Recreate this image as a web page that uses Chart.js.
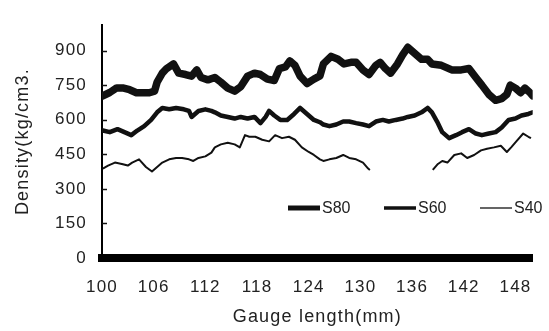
<!DOCTYPE html>
<html>
<head>
<meta charset="utf-8">
<script src="https://cdn.jsdelivr.net/npm/chart.js@4.4.1/dist/chart.umd.min.js"></script>
<style>
  body { margin: 0; background: #fff; }
  #wrap { width: 549px; height: 331px; }
</style>
</head>
<body>
<div id="wrap"><canvas id="chartCanvas" width="549" height="331"></canvas></div>
<script>
const seriesNames = ["S80", "S60", "S40"];

const s80Gauge = [100.1, 100.9, 101.7, 102.4, 103.2, 104.0, 104.7, 105.5, 106.1, 106.4, 107.0, 107.5, 108.3, 108.9, 109.7, 110.4, 111.0, 111.5, 112.3, 113.1, 113.8, 114.6, 115.4, 116.1, 116.9, 117.7, 118.4, 119.2, 120.0, 120.6, 121.3, 121.8, 122.4, 123.0, 123.8, 124.6, 125.3, 125.7, 126.6, 127.4, 128.1, 128.9, 129.5, 130.3, 131.0, 131.8, 132.3, 132.9, 133.5, 134.3, 134.9, 135.5, 136.3, 137.1, 137.8, 138.3, 139.4, 140.6, 141.7, 142.6, 143.4, 144.1, 144.9, 145.7, 146.4, 147.0, 147.4, 148.0, 148.6, 149.1, 149.7, 150.0];
const s80Density = [704, 718, 738, 738, 730, 717, 717, 717, 724, 763, 802, 822, 842, 802, 796, 789, 816, 783, 773, 783, 763, 737, 724, 743, 789, 802, 796, 776, 770, 822, 829, 855, 836, 789, 757, 776, 790, 842, 875, 862, 842, 849, 849, 816, 796, 836, 849, 822, 802, 842, 881, 914, 888, 862, 862, 842, 836, 816, 816, 822, 783, 750, 710, 684, 691, 710, 750, 737, 717, 737, 717, 704];

const s60Gauge = [100.1, 100.9, 101.8, 102.6, 103.4, 104.1, 104.9, 105.7, 106.4, 107.0, 107.8, 108.6, 109.5, 110.1, 110.4, 111.2, 112.0, 112.7, 113.1, 113.8, 114.6, 115.4, 116.1, 116.9, 117.7, 118.4, 119.0, 119.4, 120.0, 120.7, 121.5, 122.3, 123.0, 123.8, 124.6, 125.3, 125.7, 126.4, 127.2, 128.0, 128.7, 129.5, 130.3, 131.0, 131.8, 132.6, 133.3, 134.1, 134.9, 135.5, 136.3, 137.1, 137.8, 138.3, 138.9, 139.5, 140.3, 141.1, 141.8, 142.6, 143.4, 144.1, 144.9, 145.7, 146.4, 147.2, 148.0, 148.7, 149.5, 150.0];
const s60Density = [553, 546, 559, 546, 533, 553, 572, 599, 632, 651, 645, 651, 645, 638, 612, 638, 645, 638, 632, 618, 612, 605, 612, 605, 612, 585, 612, 638, 618, 599, 599, 625, 651, 625, 599, 589, 579, 572, 579, 592, 592, 585, 579, 572, 592, 599, 592, 599, 605, 612, 618, 632, 651, 632, 592, 546, 520, 533, 546, 559, 540, 533, 540, 546, 566, 599, 605, 618, 625, 632];

const s40Gauge = [100.1, 100.7, 101.5, 102.3, 103.0, 103.5, 104.3, 105.1, 105.8, 106.4, 107.0, 107.8, 108.6, 109.3, 110.1, 110.6, 111.2, 112.0, 112.7, 113.1, 113.8, 114.6, 115.4, 116.0, 116.6, 117.1, 117.8, 118.6, 119.4, 120.1, 120.9, 121.7, 122.4, 123.2, 124.0, 124.6, 125.3, 125.7, 126.4, 127.2, 128.0, 128.7, 129.5, 130.3, 130.9, 131.1, 135.0, 138.4, 139.0, 139.5, 140.1, 140.9, 141.7, 142.4, 143.2, 144.0, 144.7, 145.5, 146.3, 147.0, 147.5, 148.1, 148.9, 149.5, 149.8];
const s40Density = [388, 401, 414, 408, 401, 414, 428, 395, 375, 395, 414, 428, 434, 434, 428, 421, 434, 441, 457, 480, 493, 500, 493, 480, 533, 526, 526, 513, 506, 533, 520, 526, 513, 480, 460, 447, 428, 421, 428, 434, 447, 434, 428, 414, 388, 382, null, 382, 408, 421, 414, 447, 454, 434, 447, 467, 474, 480, 487, 460, 480, 506, 540, 526, 520];

const xTicks = [100, 106, 112, 118, 124, 130, 136, 142, 148];
const yTicks = [0, 150, 300, 450, 600, 750, 900];

function toPoints(gauge, density) {
    return gauge.map((g, i) => ({ x: g, y: density[i] }));
}

const textSpacing = {
    id: "textSpacing",
    beforeDraw(chart) {
        chart.ctx.letterSpacing = "1.2px";
    }
};

const inwardTicks = {
    id: "inwardTicks",
    afterDraw(chart) {
        const ctx = chart.ctx;
        const yScale = chart.scales.y;
        const left = chart.chartArea.left;
        ctx.save();
        ctx.strokeStyle = "#111";
        ctx.lineWidth = 1.5;
        yScale.ticks.forEach(t => {
            if (t.value === 0) return;
            const py = Math.round(yScale.getPixelForValue(t.value)) + 0.5;
            ctx.beginPath();
            ctx.moveTo(left, py);
            ctx.lineTo(left + 5, py);
            ctx.stroke();
        });
        ctx.restore();
    }
};

// legend sits inside the plot, lower right
const innerLegend = {
    id: "innerLegend",
    afterDraw(chart) {
        const ctx = chart.ctx;
        const legendY = 208;
        const lineWidths = [5, 3.5, 1.3];
        ctx.save();
        ctx.letterSpacing = "0px";
        ctx.font = "16px 'Liberation Sans', Arial, sans-serif";
        ctx.textBaseline = "middle";
        ctx.fillStyle = "#222";
        chart.data.datasets.forEach((ds, i) => {
            const x0 = 288 + i * 96;
            ctx.strokeStyle = "#111";
            ctx.lineWidth = lineWidths[i];
            ctx.beginPath();
            ctx.moveTo(x0, legendY);
            ctx.lineTo(x0 + 32, legendY);
            ctx.stroke();
            ctx.fillText(ds.label, x0 + 34, legendY + 1);
        });
        ctx.restore();
    }
};

Chart.defaults.font.family = "'Liberation Sans', Arial, sans-serif";
Chart.defaults.color = "#222";

const ctx = document.getElementById("chartCanvas").getContext("2d");
const chart = new Chart(ctx, {
    type: "line",
    data: {
        datasets: [
            {
                label: seriesNames[0],
                data: toPoints(s80Gauge, s80Density),
                borderColor: "#111",
                borderWidth: 7.5,
                pointRadius: 0,
                tension: 0,
                borderJoinStyle: "round",
                borderCapStyle: "round"
            },
            {
                label: seriesNames[1],
                data: toPoints(s60Gauge, s60Density),
                borderColor: "#111",
                borderWidth: 4.5,
                pointRadius: 0,
                tension: 0,
                borderJoinStyle: "round",
                borderCapStyle: "round"
            },
            {
                label: seriesNames[2],
                data: toPoints(s40Gauge, s40Density),
                borderColor: "#111",
                borderWidth: 2,
                pointRadius: 0,
                tension: 0,
                spanGaps: false,
                borderJoinStyle: "round"
            }
        ]
    },
    options: {
        responsive: false,
        animation: false,
        devicePixelRatio: 1,
        layout: { padding: { left: 0, top: 5, right: 9, bottom: 0 } },
        plugins: {
            legend: { display: false },
            tooltip: { enabled: false }
        },
        scales: {
            x: {
                type: "linear",
                min: 100,
                max: 150,
                grid: { display: false, drawTicks: false },
                border: { display: true, color: "#000", width: 8 },
                ticks: { stepSize: 6, autoSkip: false, maxRotation: 0, padding: 19, font: { size: 17 } },
                afterBuildTicks: scale => {
                    scale.ticks = xTicks.map(v => ({ value: v }));
                },
                afterFit: scale => { scale.height = 73; },
                title: {
                    display: true,
                    text: "Gauge length(mm)",
                    font: { size: 18 },
                    padding: { top: 0, bottom: 3 }
                }
            },
            y: {
                min: 0,
                max: 1010,
                grid: { display: false, drawTicks: false },
                border: { display: true, color: "#000", width: 2 },
                ticks: { stepSize: 150, padding: 15, font: { size: 17 } },
                afterBuildTicks: scale => {
                    scale.ticks = yTicks.map(v => ({ value: v }));
                },
                afterFit: scale => { scale.width = 102; },
                title: {
                    display: true,
                    text: "Density(kg/cm3.",
                    font: { size: 18 },
                    padding: { top: 12, bottom: 0 }
                }
            }
        }
    },
    plugins: [textSpacing, inwardTicks, innerLegend]
});
</script>
</body>
</html>
